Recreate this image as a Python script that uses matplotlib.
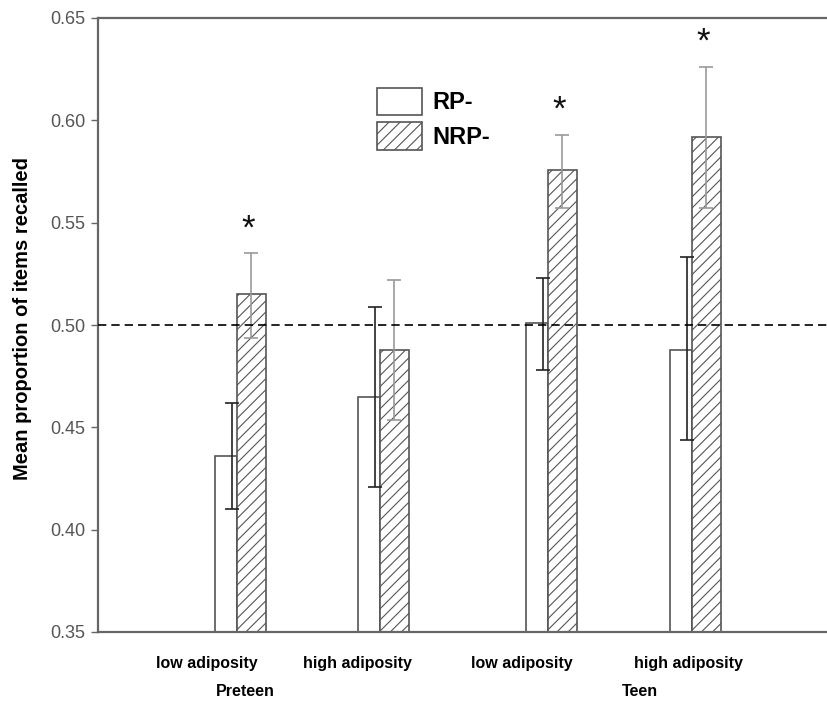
import matplotlib
matplotlib.use("Agg")
import matplotlib.pyplot as plt
from matplotlib.patches import Patch

plt.rcParams['font.family'] = ['Liberation Sans', 'DejaVu Sans']
plt.rcParams['hatch.color'] = '#555555'
plt.rcParams['hatch.linewidth'] = 0.8

# ---- data ----
conditions = ["low adiposity", "high adiposity", "low adiposity", "high adiposity"]
groups = ["Preteen", "Teen"]
rp_mean = [0.436, 0.465, 0.501, 0.488]
rp_err_hi = [0.462, 0.509, 0.523, 0.533]
rp_err_lo = [0.410, 0.421, 0.478, 0.444]
nrp_mean = [0.515, 0.488, 0.5755, 0.592]
nrp_err_hi = [0.535, 0.522, 0.593, 0.626]
nrp_err_lo = [0.4935, 0.4535, 0.557, 0.557]
significant = [True, False, True, True]
chance = 0.50
yticks = [0.35, 0.40, 0.45, 0.50, 0.55, 0.60, 0.65]

# ---- layout ----
pair_edge = [1.39, 2.82, 4.50, 5.94]
rp_w, nrp_w = 0.22, 0.29
label_x = [1.09, 2.59, 4.24, 5.90]
group_x = [1.47, 5.42]

fig = plt.figure(figsize=(8.28, 7.04), dpi=100)
ax = fig.add_axes([98/828, 72/704, 730/828, 614/704])

rp_x = [e - rp_w/2 for e in pair_edge]
nrp_x = [e + nrp_w/2 for e in pair_edge]

ax.bar(rp_x, [m - 0.35 for m in rp_mean], width=rp_w, bottom=0.35,
       color='white', edgecolor='#555555', linewidth=1.2, zorder=2)
ax.bar(nrp_x, [m - 0.35 for m in nrp_mean], width=nrp_w, bottom=0.35,
       color='white', edgecolor='#555555', linewidth=1.2, hatch='///', zorder=2)

rp_ex = [e - 0.05 for e in pair_edge]
ax.errorbar(rp_ex, rp_mean,
            yerr=[[m - l for m, l in zip(rp_mean, rp_err_lo)],
                  [h - m for m, h in zip(rp_mean, rp_err_hi)]],
            fmt='none', ecolor='#222222', elinewidth=1.2, capsize=5, capthick=1.2, zorder=3)
ax.errorbar(nrp_x, nrp_mean,
            yerr=[[m - l for m, l in zip(nrp_mean, nrp_err_lo)],
                  [h - m for m, h in zip(nrp_mean, nrp_err_hi)]],
            fmt='none', ecolor='#999999', elinewidth=1.2, capsize=5, capthick=1.2, zorder=3)

for x, top, sig in zip(nrp_x, nrp_err_hi, significant):
    if sig:
        ax.text(x - 0.03, top + 0.012, "*", ha='center', va='center',
                fontsize=25, color='#111111')

ax.axhline(chance, color='black', linestyle=(0, (5, 3)), linewidth=1.2, zorder=4)

ax.set_xlim(0, 7.30)
ax.set_ylim(0.35, 0.65)
ax.set_yticks(yticks)
ax.set_yticklabels([f"{t:.2f}" for t in yticks])
ax.tick_params(axis='y', direction='out', length=5, width=1, color='#666666',
               labelcolor='#555555', labelsize=13, pad=4)
ax.set_xticks(label_x)
ax.set_xticklabels(conditions, fontsize=11.5, fontweight='bold')
ax.tick_params(axis='x', length=0, pad=17)

for gx, g in zip(group_x, groups):
    ax.text(gx, -0.097, g, transform=ax.get_xaxis_transform(), ha='center', va='center',
            fontsize=11.5, fontweight='bold')

for s in ['top', 'bottom', 'left']:
    ax.spines[s].set_color('#666666')
    ax.spines[s].set_linewidth(1.6)
ax.spines['right'].set_visible(False)

ax.set_ylabel("Mean proportion of items recalled", fontsize=14.5, fontweight='bold')
ax.yaxis.set_label_coords(-66/730, 0.51)

handles = [Patch(facecolor='white', edgecolor='#555555', linewidth=1.2, label='RP-'),
           Patch(facecolor='white', edgecolor='#555555', linewidth=1.2, hatch='///', label='NRP-')]
leg = ax.legend(handles=handles, loc='upper left', bbox_to_anchor=(0.366, 0.906),
                frameon=False, borderpad=0, handlelength=1.9, handleheight=1.44,
                handletextpad=0.45, labelspacing=0.3,
                prop={'family': ['Liberation Sans'], 'weight': 'bold', 'size': 17})

fig.savefig("out.png", dpi=100, facecolor='white')
